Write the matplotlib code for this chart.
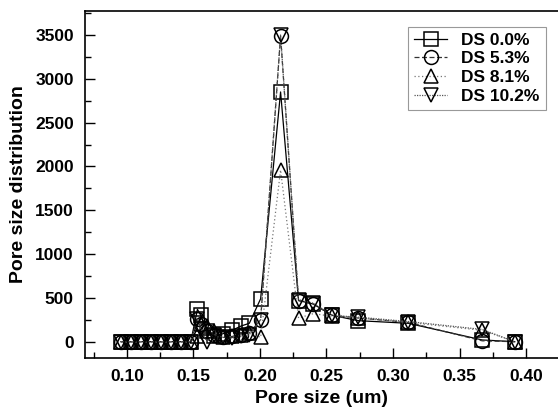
import matplotlib
matplotlib.use("Agg")
import matplotlib.pyplot as plt
from matplotlib.ticker import MultipleLocator

plt.rcParams['font.family'] = ['Liberation Sans', 'DejaVu Sans']

pore_size = [0.0955, 0.1030, 0.1105, 0.1180, 0.1255, 0.1330, 0.1405, 0.1480,
             0.1530, 0.1555, 0.1600, 0.1655, 0.1720, 0.1790, 0.1860, 0.1920,
             0.2005, 0.2155, 0.2290, 0.2400, 0.2545, 0.2740, 0.3115, 0.3670, 0.3915]

ds_0_0 = [0, 0, 0, 0, 0, 0, 0, 0, 370, 300, 120, 60, 90, 130, 180, 210,
          490, 2850, 470, 430, 300, 240, 210, 20, 0]
ds_5_3 = [0, 0, 0, 0, 0, 0, 0, 0, 260, 200, 120, 80, 50, 60, 80, 100,
          250, 3490, 470, 430, 300, 270, 220, 10, 0]
ds_8_1 = [0, 0, 0, 0, 0, 0, 0, 0, 60, 200, 180, 120, 50, 60, 80, 100,
          50, 1960, 270, 320, 290, 270, 220, 130, 0]
ds_10_2 = [0, 0, 0, 0, 0, 0, 0, 0, 260, 150, 0, 80, 50, 40, 60, 80,
           250, 3500, 480, 440, 300, 280, 230, 140, 0]

labels = ['DS 0.0%', 'DS 5.3%', 'DS 8.1%', 'DS 10.2%']
series = [ds_0_0, ds_5_3, ds_8_1, ds_10_2]
markers = ['s', 'o', '^', 'v']
styles = ['-', (0, (4, 2)), (0, (1, 2)), (0, (1, 1))]
lcolors = ['black', '#333333', '#777777', '#555555']

fig = plt.figure(figsize=(5.58, 4.12), dpi=100)
ax = fig.add_axes([85/558, 1 - 358/412, 1 - 85/558, (358 - 11)/412])

for ys, lab, m, ls, lc in zip(series, labels, markers, styles, lcolors):
    ax.plot(pore_size, ys, linestyle=ls, color=lc, linewidth=0.9,
            marker=m, markersize=10, markerfacecolor='none',
            markeredgecolor='black', markeredgewidth=1.1, label=lab)

ax.set_xlim(0.0685, 0.424)
ax.set_ylim(-186, 3774)
ax.xaxis.set_minor_locator(MultipleLocator(0.025))
ax.yaxis.set_major_locator(MultipleLocator(500))
ax.yaxis.set_minor_locator(MultipleLocator(250))
ax.set_xticks([0.10, 0.15, 0.20, 0.25, 0.30, 0.35, 0.40])
ax.set_xticklabels(['0.10', '0.15', '0.20', '0.25', '0.30', '0.35', '0.40'])

ax.tick_params(which='both', direction='in', top=False, right=False,
               labelsize=12.5, width=1.0)
ax.tick_params(which='major', length=7)
ax.tick_params(which='minor', length=4)
ax.tick_params(axis='x', pad=8)
ax.tick_params(axis='y', pad=8)
for lbl in ax.get_xticklabels() + ax.get_yticklabels():
    lbl.set_fontweight('bold')

ax.spines['right'].set_visible(False)
for s in ['left', 'bottom', 'top']:
    ax.spines[s].set_linewidth(1.2)

ax.set_xlabel('Pore size (um)', fontsize=14, fontweight='bold', labelpad=4)
ax.set_ylabel('Pore size distribution', fontsize=14, fontweight='bold', labelpad=6)

leg = ax.legend(loc='upper right', bbox_to_anchor=(0.985, 0.97), frameon=True,
                fancybox=False, edgecolor='#999999', framealpha=1,
                prop={'weight': 'bold', 'size': 12.5}, handlelength=1.9,
                handletextpad=0.8, borderpad=0.35, labelspacing=0.2,
                borderaxespad=0.3)
leg.get_frame().set_linewidth(0.8)

fig.savefig('out.png', dpi=100)
